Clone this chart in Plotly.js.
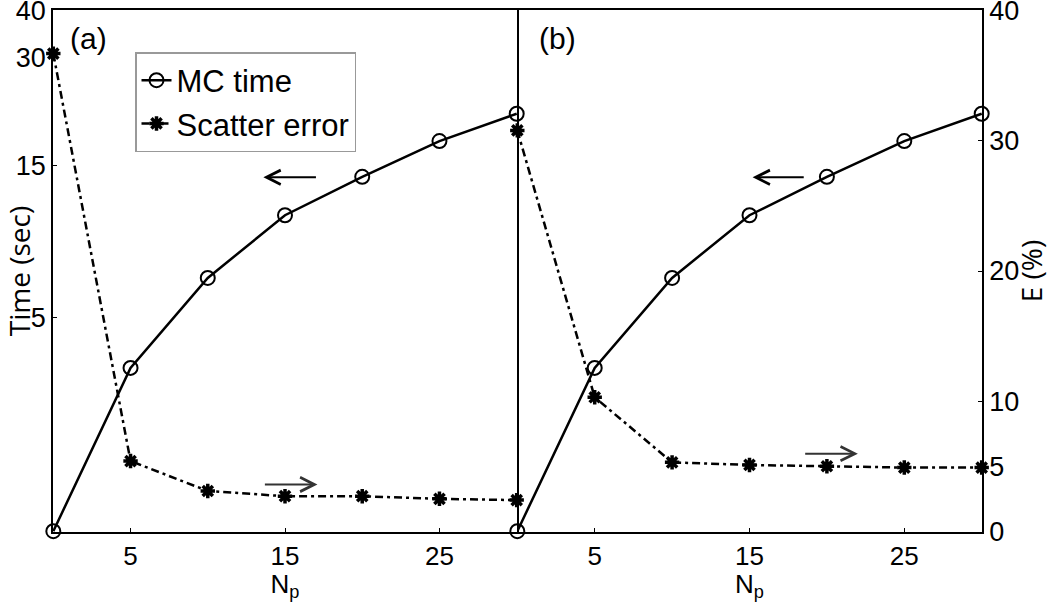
<!DOCTYPE html>
<html>
<head>
<meta charset="utf-8">
<script src="https://cdn.plot.ly/plotly-3.0.1.min.js"></script>
<style>
  html, body { margin: 0; padding: 0; background: #fff; }
  #plot { width: 1050px; height: 602px; }
</style>
</head>
<body>
<div id="plot"></div>
<script>
// Number of photons (x values, shared by both panels)
var np = [0, 5, 10, 15, 20, 25, 30];

// MC time in seconds (read through the left, compressed time scale)
var mcTime = [0, 3.2, 6.8, 10.7, 13.9, 17.6, 21.0];

// Scatter error in %, panel (a) and panel (b)
var errA = [36.7, 5.4, 3.1, 2.7, 2.7, 2.5, 2.4];
var errB = [30.8, 10.3, 5.3, 5.1, 5.0, 4.9, 4.9];

// tick labels
var npTicks = [5, 15, 25];
var timeTicks = [5, 15, 30, 40];
var errTicks = [0, 5, 10, 20, 30, 40];

// the time axis is a log axis of (time + offset), so 0 s sits on the bottom
var TIME_OFFSET = 2;
function shift(v) { return v.map(function (t) { return t + TIME_OFFSET; }); }

var font = "Liberation Sans, Arial, sans-serif";
var eps = 0.002;

var timeStyle = {
  mode: "lines+markers",
  line: { color: "black", width: 2.5 },
  marker: { symbol: "circle-open", size: 14, color: "black", line: { width: 2, color: "black" } },
  cliponaxis: false
};
var errStyle = {
  mode: "lines+markers",
  line: { color: "black", width: 2.5, dash: "8px,4px,3px,4px" },
  marker: { symbol: "asterisk-open", size: 12, color: "black", line: { width: 3.5, color: "black" } },
  cliponaxis: false
};

var traces = [
  Object.assign({ x: np, y: shift(mcTime), xaxis: "x", yaxis: "y", name: "MC time" }, timeStyle),
  Object.assign({ x: np, y: errA, xaxis: "x", yaxis: "y2", name: "Scatter error" }, errStyle),
  Object.assign({ x: np, y: shift(mcTime), xaxis: "x2", yaxis: "y3", name: "MC time", showlegend: false }, timeStyle),
  Object.assign({ x: np, y: errB, xaxis: "x2", yaxis: "y4", name: "Scatter error", showlegend: false }, errStyle)
];

var split = 464 / 929;
var timeRange = [Math.log10(TIME_OFFSET) - eps, Math.log10(40 + TIME_OFFSET) + eps];
var errRange = [-0.05, 40.05];

function xAxis(domain, anchor) {
  return {
    domain: domain, anchor: anchor, range: [-0.02, 30.02],
    tickvals: npTicks, ticks: "inside", ticklen: 4, tickcolor: "black",
    showline: true, linecolor: "black", linewidth: 1.8, mirror: true,
    showgrid: false, zeroline: false,
    tickfont: { family: font, size: 26, color: "black" },
    title: { text: "N<sub>p</sub>", font: { family: font, size: 26, color: "black" }, standoff: 7 }
  };
}

var layout = {
  width: 1050, height: 602,
  margin: { l: 53, r: 68, t: 10, b: 70 },
  paper_bgcolor: "white", plot_bgcolor: "white",
  showlegend: true,
  legend: {
    x: (135 - 53) / 929, y: (532 - 52) / 522, xanchor: "left", yanchor: "top",
    bgcolor: "white", bordercolor: "#999", borderwidth: 1.5,
    font: { family: font, size: 31, color: "black" },
    itemwidth: 30, tracegroupgap: 0
  },
  xaxis: xAxis([0, split], "y"),
  xaxis2: xAxis([split, 1], "y3"),
  yaxis: {
    type: "log", range: timeRange, anchor: "x",
    tickvals: shift(timeTicks), ticktext: timeTicks.map(String),
    ticks: "inside", ticklen: 4, tickcolor: "black", ticklabeloverflow: "allow",
    showline: true, linecolor: "black", linewidth: 1.8, mirror: true,
    showgrid: false, zeroline: false,
    tickfont: { family: font, size: 27, color: "black" },
    title: { text: "Time (sec)", font: { family: "Open Sans, sans-serif", size: 28, color: "black" }, standoff: 0 }
  },
  yaxis2: { overlaying: "y", range: errRange, visible: false, anchor: "x" },
  yaxis3: {
    type: "log", range: timeRange, anchor: "x2",
    showticklabels: false, ticks: "", showline: false,
    showgrid: false, zeroline: false
  },
  yaxis4: {
    overlaying: "y3", side: "right", anchor: "x2", range: errRange,
    tickvals: errTicks, ticks: "inside", ticklen: 4, tickcolor: "black", ticklabeloverflow: "allow",
    showline: true, linecolor: "black", linewidth: 1.8,
    showgrid: false, zeroline: false,
    tickfont: { family: font, size: 27, color: "black" },
    title: { text: "E (%)", font: { family: "Open Sans, sans-serif", size: 28, color: "black" }, standoff: 10 }
  },
  annotations: [
    { text: "(a)", xref: "paper", yref: "paper", x: (88 - 53) / 929, y: (532 - 38) / 522,
      xanchor: "center", yanchor: "middle", showarrow: false,
      font: { family: font, size: 30, color: "black" } },
    { text: "(b)", xref: "paper", yref: "paper", x: (557 - 53) / 929, y: (532 - 38) / 522,
      xanchor: "center", yanchor: "middle", showarrow: false,
      font: { family: font, size: 30, color: "black" } },
    // arrows: which axis each curve belongs to
    { xref: "x", yref: "y2", axref: "x", ayref: "y2", x: 13.6, y: 27.2, ax: 17.1, ay: 27.2,
      text: "", showarrow: true, arrowhead: 5, arrowsize: 1.4, arrowwidth: 2, arrowcolor: "black" },
    { xref: "x", yref: "y2", axref: "x", ayref: "y2", x: 17.1, y: 3.6, ax: 13.6, ay: 3.6,
      text: "", showarrow: true, arrowhead: 5, arrowsize: 1.4, arrowwidth: 2, arrowcolor: "#333" },
    { xref: "x2", yref: "y4", axref: "x2", ayref: "y4", x: 15.2, y: 27.2, ax: 18.6, ay: 27.2,
      text: "", showarrow: true, arrowhead: 5, arrowsize: 1.4, arrowwidth: 2, arrowcolor: "black" },
    { xref: "x2", yref: "y4", axref: "x2", ayref: "y4", x: 22.0, y: 5.97, ax: 18.5, ay: 5.97,
      text: "", showarrow: true, arrowhead: 5, arrowsize: 1.4, arrowwidth: 2, arrowcolor: "#333" }
  ]
};

Plotly.newPlot("plot", traces, layout, { displayModeBar: false, staticPlot: true });
</script>
</body>
</html>
